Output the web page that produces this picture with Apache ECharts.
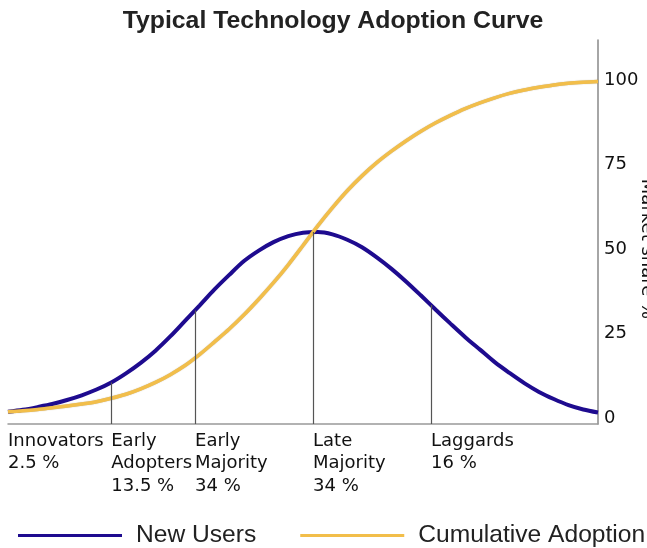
<!DOCTYPE html>
<html>
<head>
<meta charset="utf-8">
<script src="https://cdn.jsdelivr.net/npm/echarts@6/dist/echarts.min.js"></script>
<style>
html,body{margin:0;padding:0;background:#fff;}
#chart{width:647px;height:548px;}
</style>
</head>
<body>
<div id="chart"></div>
<script>
// x positions along the adoption timeline (0 = start, 100 = end)
const xs = [0, 2.5, 5, 7.5, 10, 12.5, 15, 17.5, 20, 22.5, 25, 27.5, 30, 32.5, 35, 37.5, 40, 42.5, 45, 47.5, 50,
            52.5, 55, 57.5, 60, 62.5, 65, 67.5, 70, 72.5, 75, 77.5, 80, 82.5, 85, 87.5, 90, 92.5, 95, 97.5, 100];
// New users (bell curve), market share %
const newUsers = [1.8, 2.4, 3.2, 4.1, 5.3, 6.7, 8.4, 10.5, 13.2, 16.3, 19.9, 24.1, 28.7, 33.3, 38.0, 42.3, 46.4, 49.5, 52.0, 53.8, 54.8,
                  55.0, 54.3, 52.7, 50.5, 47.5, 44.1, 40.3, 36.2, 32.0, 27.9, 23.9, 20.2, 16.5, 13.3, 10.3, 7.7, 5.6, 3.8, 2.5, 1.6];
// Cumulative adoption (S-curve), market share %
const cumulative = [1.8, 2.1, 2.5, 3.0, 3.5, 4.1, 4.8, 5.8, 7.0, 8.6, 10.5, 12.8, 15.5, 18.8, 22.5, 26.3, 30.5, 35.1, 40, 45.3, 51,
                    56.8, 62.2, 67.2, 71.6, 75.5, 78.9, 82, 84.8, 87.3, 89.5, 91.5, 93.2, 94.7, 96, 97, 97.8, 98.5, 99, 99.3, 99.5];
// Segment boundaries, labels, and new-user height at each boundary
const segmentStarts = [0, 17.5, 31.7, 51.7, 71.7];
const segmentNames = ['Innovators\n2.5 %', 'Early\nAdopters\n13.5 %', 'Early\nMajority\n34 %', 'Late\nMajority\n34 %', 'Laggards\n16 %'];
const boundaryHeights = [10.5, 31.8, 55, 33.4];
const yTicks = [0, 25, 50, 75, 100];
const yAxisName = 'Market share %';

const yMin = -1.8, yMax = 111.8;

const dropLines = segmentStarts.slice(1).map(function (x, i) {
  return [{ coord: [x, yMin] }, { coord: [x, boundaryHeights[i]] }];
});

const chart = echarts.init(document.getElementById('chart'), null, { renderer: 'canvas' });
chart.setOption({
  animation: false,
  backgroundColor: '#ffffff',
  title: {
    text: 'Typical Technology Adoption Curve',
    left: 328,
    textAlign: 'center',
    top: 4,
    textStyle: { fontFamily: 'Liberation Sans', fontWeight: 'bold', fontSize: 24.8, color: '#222' }
  },
  legend: {
    data: ['New Users', 'Cumulative Adoption'],
    left: 18,
    top: 523,
    width: 680,
    padding: 0,
    icon: 'rect',
    itemWidth: 104,
    itemHeight: 3,
    itemGap: 44,
    textStyle: { fontFamily: 'Liberation Sans', fontSize: 24.6, color: '#222', padding: [0, 0, 0, 9] }
  },
  graphic: [{
    type: 'text',
    x: 647,
    y: 249,
    rotation: -Math.PI / 2,
    silent: true,
    style: {
      text: yAxisName,
      fill: '#111',
      font: '18px "DejaVu Sans"',
      align: 'center',
      verticalAlign: 'middle'
    }
  }],
  grid: { left: 8, right: 49, top: 40, bottom: 124, containLabel: false, outerBoundsMode: 'none' },
  xAxis: {
    type: 'value',
    min: 0,
    max: 100,
    axisLine: { show: true, onZero: false, lineStyle: { color: '#999', width: 1.5 } },
    axisTick: { show: false },
    splitLine: { show: false },
    axisLabel: {
      customValues: segmentStarts,
      formatter: function (v) {
        const i = segmentStarts.indexOf(v);
        return i >= 0 ? segmentNames[i] : '';
      },
      align: 'left',
      verticalAlign: 'top',
      margin: 6,
      lineHeight: 22.5,
      fontFamily: 'DejaVu Sans',
      fontSize: 18,
      color: '#111'
    }
  },
  yAxis: {
    type: 'value',
    position: 'right',
    min: yMin,
    max: yMax,
    axisLine: { show: true, onZero: false, lineStyle: { color: '#888', width: 1.5 } },
    axisTick: { show: false },
    splitLine: { show: false },
    axisLabel: {
      customValues: yTicks,
      margin: 6,
      fontFamily: 'DejaVu Sans',
      fontSize: 18,
      color: '#111'
    }
  },
  series: [
    {
      name: 'Segments',
      type: 'line',
      data: [],
      z: 1,
      silent: true,
      markLine: {
        silent: true,
        symbol: ['none', 'none'],
        label: { show: false },
        lineStyle: { color: '#555', width: 1.2, type: 'solid' },
        emphasis: { disabled: true },
        data: dropLines
      }
    },
    {
      name: 'New Users',
      type: 'line',
      z: 2,
      smooth: 0.3,
      showSymbol: false,
      symbol: 'none',
      color: '#1e0b8f',
      lineStyle: { color: '#1e0b8f', width: 4 },
      data: xs.map(function (x, i) { return [x, newUsers[i]]; })
    },
    {
      name: 'Cumulative Adoption',
      type: 'line',
      z: 3,
      smooth: 0.3,
      showSymbol: false,
      symbol: 'none',
      color: '#f2be4a',
      lineStyle: { color: '#f2be4a', width: 3.5, shadowColor: 'rgba(120,90,20,0.5)', shadowBlur: 1 },
      data: xs.map(function (x, i) { return [x, cumulative[i]]; })
    }
  ]
});
</script>
</body>
</html>
